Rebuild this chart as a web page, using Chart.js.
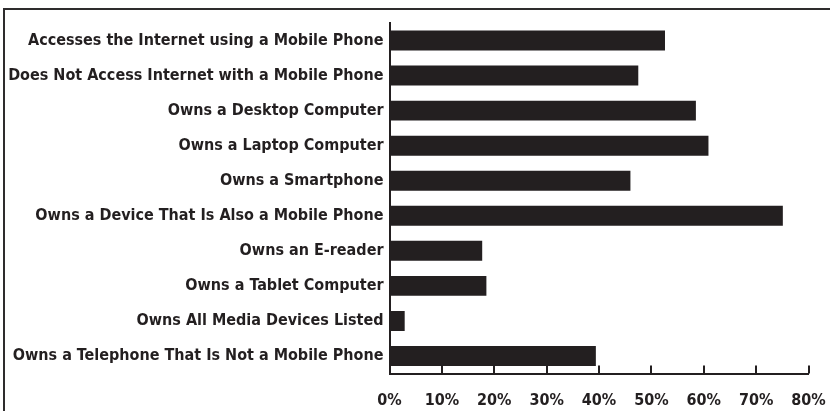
<!DOCTYPE html>
<html>
<head>
<meta charset="utf-8">
<script src="https://cdn.jsdelivr.net/npm/chart.js@4/dist/chart.umd.min.js"></script>
<style>
  html, body { margin: 0; padding: 0; background: #ffffff; overflow: hidden; }
  #frame {
    position: absolute; left: 3px; top: 8px; width: 900px; height: 500px;
    border-top: 2px solid #2e2c2d; border-left: 2px solid #2e2c2d;
  }
  #wrap { position: absolute; left: 0; top: 0; width: 830px; height: 411px; }
</style>
</head>
<body>
<div id="frame"></div>
<div id="wrap"><canvas id="c" width="830" height="411"></canvas></div>
<script>
// Media device ownership, share of respondents (%)
const categories = [
  "Accesses the Internet using a Mobile Phone",
  "Does Not Access Internet with a Mobile Phone",
  "Owns a Desktop Computer",
  "Owns a Laptop Computer",
  "Owns a Smartphone",
  "Owns a Device That Is Also a Mobile Phone",
  "Owns an E-reader",
  "Owns a Tablet Computer",
  "Owns All Media Devices Listed",
  "Owns a Telephone That Is Not a Mobile Phone"
];
const shares = [52.6, 47.5, 58.5, 60.9, 46.0, 75.1, 17.7, 18.5, 2.9, 39.4];
const tickValues = [0, 10, 20, 30, 40, 50, 60, 70, 80];

const INK = "#231f20";
const FONT = { family: "'DejaVu Sans Condensed', 'Liberation Sans Narrow', sans-serif", size: 16, weight: "bold" };

// Short tick marks pointing up into the plot from the value axis
const innerTicks = {
  id: "innerTicks",
  afterDraw(chart) {
    const x = chart.scales.x;
    const ctx = chart.ctx;
    const yb = x.top;
    ctx.save();
    ctx.strokeStyle = INK;
    ctx.lineWidth = 2;
    tickValues.forEach(v => {
      if (v === 0) return;
      const px = Math.round(x.getPixelForValue(v));
      ctx.beginPath();
      ctx.moveTo(px, yb - 8);
      ctx.lineTo(px, yb);
      ctx.stroke();
    });
    ctx.restore();
  }
};

new Chart(document.getElementById("c"), {
  type: "bar",
  data: {
    labels: categories,
    datasets: [{
      data: shares,
      backgroundColor: INK,
      borderWidth: 0,
      categoryPercentage: 1,
      barPercentage: 0.57
    }]
  },
  options: {
    indexAxis: "y",
    responsive: false,
    animation: false,
    devicePixelRatio: 1,
    layout: { padding: { left: 0, top: 23, right: 21.5, bottom: 0 } },
    plugins: { legend: { display: false }, tooltip: { enabled: false } },
    scales: {
      x: {
        min: 0, max: 80,
        afterBuildTicks(scale) { scale.ticks = tickValues.map(v => ({ value: v })); },
        afterFit(scale) {
          scale.height = 411 - 373.5;
          scale.paddingLeft = 0;
          scale.paddingRight = 0;
        },
        grid: { display: true, drawOnChartArea: false, drawTicks: false },
        border: { display: true, color: INK, width: 2 },
        ticks: {
          color: INK, font: FONT, padding: 18,
          callback: v => v + "%"
        }
      },
      y: {
        afterFit(scale) {
          scale.width = 389.5;
          scale.paddingTop = 0;
          scale.paddingBottom = 0;
        },
        grid: { display: false, drawTicks: false },
        border: { display: true, color: INK, width: 2 },
        ticks: { color: INK, font: FONT, padding: 6, autoSkip: false }
      }
    }
  },
  plugins: [innerTicks]
});
</script>
</body>
</html>
